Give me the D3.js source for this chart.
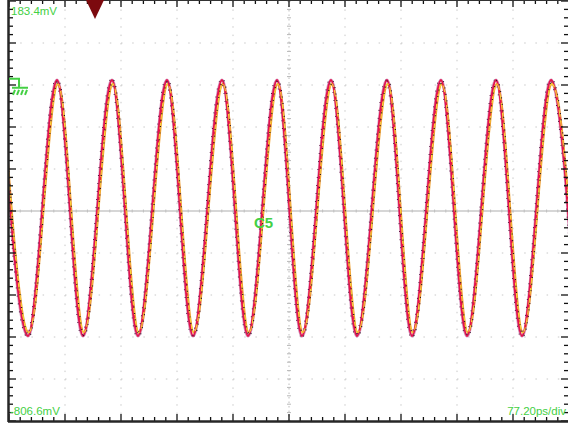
<!DOCTYPE html>
<html>
<head>
<meta charset="utf-8">
<script src="https://cdn.jsdelivr.net/npm/d3@7"></script>
<style>
  body { margin:0; background:#fff; }
  svg { display:block; font-family: Arial, "Liberation Sans", sans-serif; }
</style>
</head>
<body>
<div class="chart"></div>
<script>
// scope settings
const timePerDivPs = 77.2;
const voltTopMv = 183.4;
const voltBottomMv = -806.6;
const labelTop = "183.4mV";
const labelBottom = "-806.6mV";
const labelTime = "77.20ps/div";
const channelLabel = "C5";

// red / purple trace extrema (ps, mV)
const redPeakPs   = [-11.0, 66.2, 142.0, 217.8, 293.6, 369.5, 443.9, 521.1, 595.5, 671.4, 747.2];
const redTroughPs = [26.2, 102.0, 177.8, 253.7, 329.5, 403.9, 479.7, 555.6, 631.4, 707.2, 783.0];
const redPeakMv = -3;
const redTroughMv = -606;

// yellow trace extrema, a bit inside the red one
const yellowPeakPs   = [-9.8, 67.4, 143.2, 219.0, 294.8, 370.7, 445.1, 522.3, 596.7, 672.6, 748.4];
const yellowTroughPs = [27.4, 103.2, 179.0, 254.9, 330.7, 405.1, 480.9, 556.8, 632.6, 708.4, 784.2];
const yellowPeakMv = -12;
const yellowTroughMv = -598;

// layout
let outWidth = 568, outHeight = 423;
let plot = {left:9, right:569, top:1, bottom:421};
let divsX = 10, divsY = 10;

const svg = d3.select('.chart').append('svg')
    .attr("width", outWidth)
    .attr("height", outHeight);

let xScale = d3.scaleLinear()
    .domain([0, timePerDivPs*divsX])
    .range([plot.left, plot.right]);
let yScale = d3.scaleLinear()
    .domain([voltBottomMv, voltTopMv])
    .range([plot.bottom, plot.top]);
let xDiv = d3.scaleLinear().domain([0, divsX]).range([plot.left, plot.right]);
let yDiv = d3.scaleLinear().domain([0, divsY]).range([plot.top, plot.bottom]);

svg.append("defs").append("clipPath").attr("id","clip")
    .append("rect")
    .attr("x", plot.left).attr("y", plot.top)
    .attr("width", plot.right-plot.left).attr("height", plot.bottom-plot.top);

// grid
const grid = svg.append("g");
grid.selectAll(".vg")
    .data(d3.range(1, divsX).filter(d=>d!==divsX/2))
    .join("line")
    .attr("x1", d=>xDiv(d)).attr("x2", d=>xDiv(d))
    .attr("y1", plot.top).attr("y2", plot.bottom)
    .attr("stroke","#c8c8c8").attr("stroke-dasharray","1.5,6.9");
grid.selectAll(".hg")
    .data(d3.range(1, divsY).filter(d=>d!==divsY/2))
    .join("line")
    .attr("y1", d=>yDiv(d)).attr("y2", d=>yDiv(d))
    .attr("x1", plot.left).attr("x2", plot.right)
    .attr("stroke","#c8c8c8").attr("stroke-dasharray","1.5,9.7");

// centre cross
let cx = xDiv(divsX/2), cy = yDiv(divsY/2);
grid.append("line")
    .attr("x1", plot.left).attr("x2", plot.right)
    .attr("y1", cy).attr("y2", cy)
    .attr("stroke","#adadad").attr("stroke-width",1);
grid.append("line")
    .attr("x1", cx).attr("x2", cx)
    .attr("y1", plot.top).attr("y2", plot.bottom)
    .attr("stroke","#bcbcbc").attr("stroke-dasharray","1.5,3");
grid.selectAll(".cxt")
    .data(d3.range(0, divsX+0.01, 0.2))
    .join("line")
    .attr("x1", d=>xDiv(d)).attr("x2", d=>xDiv(d))
    .attr("y1", cy-1.5).attr("y2", cy+1.5)
    .attr("stroke","#c0c0c0");
grid.selectAll(".cyt")
    .data(d3.range(0, divsY+0.01, 0.2))
    .join("line")
    .attr("y1", d=>yDiv(d)).attr("y2", d=>yDiv(d))
    .attr("x1", cx-2).attr("x2", cx+2)
    .attr("stroke","#b8b8b8");

// traces
function extrema(peaks, troughs, pv, tv) {
    let pts = peaks.map(t=>({t:t, v:pv})).concat(troughs.map(t=>({t:t, v:tv})));
    return pts.sort((a,b)=>a.t-b.t);
}
const line = d3.line()
    .x(d=>xScale(d.t))
    .y(d=>yScale(d.v))
    .curve(d3.curveMonotoneX);

const redPts = extrema(redPeakPs, redTroughPs, redPeakMv, redTroughMv);
const yellowPts = extrema(yellowPeakPs, yellowTroughPs, yellowPeakMv, yellowTroughMv);

const traces = svg.append("g").attr("clip-path","url(#clip)");
traces.append("path").datum(redPts)
    .attr("d", line).attr("fill","none")
    .attr("stroke","#b03a86").attr("stroke-width",3.4)
    .attr("stroke-opacity",0.55);
traces.append("path").datum(yellowPts)
    .attr("d", line).attr("fill","none")
    .attr("stroke","#f0a030").attr("stroke-width",2.6);
traces.append("path").datum(redPts)
    .attr("d", line).attr("fill","none")
    .attr("stroke","#e3124c").attr("stroke-width",2.2);
traces.append("path").datum(yellowPts)
    .attr("d", line).attr("fill","none")
    .attr("stroke","#f6d43a").attr("stroke-width",1.1)
    .attr("stroke-dasharray","7,3");
traces.append("path").datum(redPts)
    .attr("d", line).attr("fill","none")
    .attr("stroke","#2a1020").attr("stroke-width",1.2)
    .attr("stroke-dasharray","1,5.5")
    .attr("transform","translate(1.3,0)");
traces.append("path").datum(redPts)
    .attr("d", line).attr("fill","none")
    .attr("stroke","#5a1840").attr("stroke-width",1.1)
    .attr("stroke-dasharray","1,7")
    .attr("transform","translate(-1.5,0)");

// ticks on the frame
const ticks = svg.append("g").attr("stroke","#111").attr("stroke-width",1.3);
let xt = d3.range(0, divsX+0.01, 0.2);
let yt = d3.range(0, divsY+0.01, 0.2);
let isMajor = d => Math.abs(d-Math.round(d))<1e-6;
ticks.selectAll(".bt").data(xt).join("line")
    .attr("x1", d=>xDiv(d)).attr("x2", d=>xDiv(d))
    .attr("y1", plot.bottom).attr("y2", d=>plot.bottom-(isMajor(d)?7:4));
ticks.selectAll(".tt").data(xt).join("line")
    .attr("x1", d=>xDiv(d)).attr("x2", d=>xDiv(d))
    .attr("y1", 0).attr("y2", d=>(isMajor(d)?7:4));
ticks.selectAll(".lt").data(yt).join("line")
    .attr("y1", d=>yDiv(d)).attr("y2", d=>yDiv(d))
    .attr("x1", plot.left).attr("x2", d=>plot.left+(isMajor(d)?7:4));
ticks.selectAll(".rt").data(yt).join("line")
    .attr("y1", d=>yDiv(d)).attr("y2", d=>yDiv(d))
    .attr("x1", outWidth).attr("x2", d=>outWidth-(isMajor(d)?7:4));

// frame
svg.append("line").attr("x1",plot.left-0.5).attr("x2",plot.left-0.5)
    .attr("y1",0).attr("y2",plot.bottom+1)
    .attr("stroke","#262626").attr("stroke-width",2.5);
svg.append("line").attr("x1",plot.left-1).attr("x2",outWidth)
    .attr("y1",plot.bottom+0.5).attr("y2",plot.bottom+0.5)
    .attr("stroke","#262626").attr("stroke-width",2.5);
svg.append("line").attr("x1",plot.left).attr("x2",outWidth)
    .attr("y1",0.5).attr("y2",0.5)
    .attr("stroke","#333").attr("stroke-width",1);

// trigger marker
svg.append("path")
    .attr("d","M86,0 L104,0 L95,19 Z")
    .attr("fill","#7c0a0e");

// ground reference marker
let green = "#44d044";
let gy = yScale(0);
svg.append("path")
    .attr("d", `M${plot.left},${gy} H19 V${gy+9} M12,${gy+9} H28`
        + ` M13,${gy+16} L15,${gy+11} M17,${gy+16} L19,${gy+11}`
        + ` M21,${gy+16} L23,${gy+11} M25,${gy+16} L27,${gy+11}`)
    .attr("fill","none").attr("stroke",green).attr("stroke-width",2);

// labels
const lab = svg.append("g").attr("fill",green).attr("font-size",11.5);
lab.append("text").attr("x",11).attr("y",15).text(labelTop);
lab.append("text").attr("x",10).attr("y",415).text(labelBottom);
lab.append("text").attr("x",566).attr("y",415).attr("text-anchor","end").text(labelTime);
svg.append("text").attr("x",254).attr("y",228)
    .attr("fill",green).attr("font-size",15).attr("font-weight","bold")
    .text(channelLabel);
</script>
</body>
</html>
